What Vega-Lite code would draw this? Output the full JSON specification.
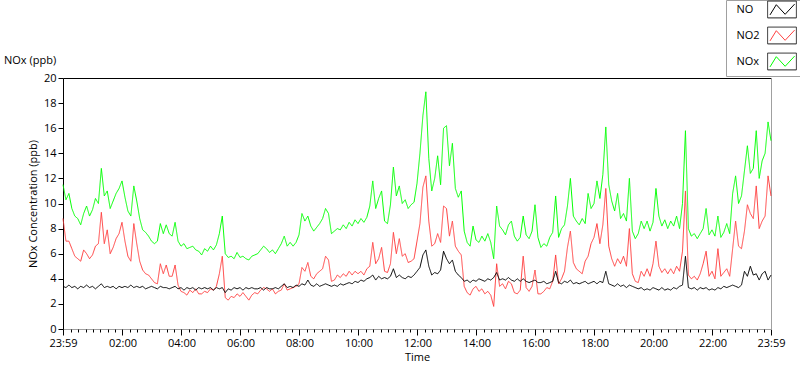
{
"$schema": "https://vega.github.io/schema/vega-lite/v6.json",
"width": 708, "height": 251,
"autosize": {"type": "none"},
"padding": {"left": 63, "top": 78, "right": 29, "bottom": 40},
"background": "white",
"config": {"view": {"stroke": null}, "font": "Open Sans",
 "axis": {"labelFont": "Open Sans", "titleFont": "Open Sans", "labelFontSize": 11, "titleFontSize": 11, "titleFontWeight": "normal", "labelColor": "black", "titleColor": "black", "grid": false}},
"title": {"text": "NOx (ppb)", "anchor": "start", "frame": "group", "dx": -59, "dy": 79, "offset": 13, "fontSize": 11, "fontWeight": "normal", "color": "black", "font": "Open Sans"},
"data": {"values": [
{"t":0,"NO":3.4,"NO2":8.8,"NOx":11.5},{"t":6,"NO":3.3,"NO2":7.0,"NOx":10.3},{"t":12,"NO":3.5,"NO2":7.0,"NOx":10.8},{"t":18,"NO":3.3,"NO2":6.4,"NOx":9.6},{"t":24,"NO":3.4,"NO2":5.8,"NOx":9.0},{"t":30,"NO":3.2,"NO2":5.6,"NOx":8.8},{"t":36,"NO":3.4,"NO2":5.4,"NOx":8.3},{"t":42,"NO":3.3,"NO2":6.3,"NOx":9.2},{"t":48,"NO":3.5,"NO2":6.0,"NOx":9.8},{"t":54,"NO":3.3,"NO2":5.6,"NOx":9.0},
{"t":60,"NO":3.4,"NO2":5.9,"NOx":9.5},{"t":66,"NO":3.2,"NO2":6.6,"NOx":10.4},{"t":72,"NO":3.4,"NO2":6.8,"NOx":10.0},{"t":78,"NO":3.6,"NO2":9.3,"NOx":12.8},{"t":84,"NO":3.3,"NO2":6.8,"NOx":10.6},{"t":90,"NO":3.4,"NO2":7.9,"NOx":11.0},{"t":96,"NO":3.3,"NO2":6.0,"NOx":9.6},{"t":102,"NO":3.4,"NO2":6.5,"NOx":10.2},{"t":108,"NO":3.2,"NO2":7.2,"NOx":10.8},{"t":114,"NO":3.4,"NO2":7.6,"NOx":11.2},
{"t":120,"NO":3.3,"NO2":8.5,"NOx":11.8},{"t":126,"NO":3.4,"NO2":7.0,"NOx":10.5},{"t":132,"NO":3.3,"NO2":5.8,"NOx":9.4},{"t":138,"NO":3.5,"NO2":5.4,"NOx":9.0},{"t":144,"NO":3.3,"NO2":8.4,"NOx":11.4},{"t":150,"NO":3.4,"NO2":6.8,"NOx":10.2},{"t":156,"NO":3.3,"NO2":5.4,"NOx":8.8},{"t":162,"NO":3.4,"NO2":4.7,"NOx":7.9},{"t":168,"NO":3.2,"NO2":4.4,"NOx":7.7},{"t":174,"NO":3.3,"NO2":4.3,"NOx":7.4},
{"t":180,"NO":3.4,"NO2":4.0,"NOx":7.0},{"t":186,"NO":3.3,"NO2":3.7,"NOx":6.8},{"t":192,"NO":3.2,"NO2":3.6,"NOx":7.0},{"t":198,"NO":3.4,"NO2":5.2,"NOx":8.4},{"t":204,"NO":3.3,"NO2":4.4,"NOx":7.6},{"t":210,"NO":3.3,"NO2":5.1,"NOx":8.3},{"t":216,"NO":3.2,"NO2":4.2,"NOx":7.6},{"t":222,"NO":3.3,"NO2":4.2,"NOx":7.4},{"t":228,"NO":3.4,"NO2":5.1,"NOx":8.5},{"t":234,"NO":3.2,"NO2":3.5,"NOx":7.0},
{"t":240,"NO":3.3,"NO2":3.0,"NOx":6.6},{"t":246,"NO":3.1,"NO2":2.9,"NOx":6.8},{"t":252,"NO":3.3,"NO2":2.7,"NOx":6.4},{"t":258,"NO":3.2,"NO2":3.1,"NOx":6.5},{"t":264,"NO":3.3,"NO2":2.9,"NOx":6.6},{"t":270,"NO":3.1,"NO2":3.2,"NOx":6.3},{"t":276,"NO":3.3,"NO2":2.8,"NOx":6.2},{"t":282,"NO":3.2,"NO2":2.8,"NOx":5.9},{"t":288,"NO":3.3,"NO2":3.0,"NOx":6.4},{"t":294,"NO":3.2,"NO2":2.9,"NOx":6.2},
{"t":300,"NO":3.3,"NO2":3.2,"NOx":6.6},{"t":306,"NO":3.1,"NO2":3.1,"NOx":6.3},{"t":312,"NO":3.3,"NO2":3.4,"NOx":6.7},{"t":318,"NO":3.2,"NO2":4.4,"NOx":7.6},{"t":324,"NO":3.3,"NO2":5.8,"NOx":9.0},{"t":330,"NO":2.9,"NO2":2.5,"NOx":6.0},{"t":336,"NO":3.2,"NO2":2.3,"NOx":5.7},{"t":342,"NO":3.1,"NO2":2.6,"NOx":5.8},{"t":348,"NO":3.3,"NO2":2.5,"NOx":5.6},{"t":354,"NO":3.2,"NO2":2.8,"NOx":6.1},
{"t":360,"NO":3.3,"NO2":2.6,"NOx":5.7},{"t":366,"NO":3.1,"NO2":2.9,"NOx":5.8},{"t":372,"NO":3.3,"NO2":2.6,"NOx":5.6},{"t":378,"NO":3.2,"NO2":2.3,"NOx":5.5},{"t":384,"NO":3.3,"NO2":2.7,"NOx":5.8},{"t":390,"NO":3.2,"NO2":2.9,"NOx":5.9},{"t":396,"NO":3.2,"NO2":2.8,"NOx":6.0},{"t":402,"NO":3.3,"NO2":3.1,"NOx":6.3},{"t":408,"NO":3.1,"NO2":3.3,"NOx":6.6},{"t":414,"NO":3.3,"NO2":3.2,"NOx":6.4},
{"t":420,"NO":3.2,"NO2":3.0,"NOx":6.1},{"t":426,"NO":3.2,"NO2":3.2,"NOx":6.3},{"t":432,"NO":3.3,"NO2":2.8,"NOx":6.0},{"t":438,"NO":3.2,"NO2":3.0,"NOx":6.4},{"t":444,"NO":3.4,"NO2":3.1,"NOx":6.8},{"t":450,"NO":3.6,"NO2":3.6,"NOx":7.4},{"t":456,"NO":3.3,"NO2":3.1,"NOx":6.6},{"t":462,"NO":3.4,"NO2":3.2,"NOx":6.9},{"t":468,"NO":3.3,"NO2":3.3,"NOx":6.6},{"t":474,"NO":3.5,"NO2":3.4,"NOx":6.9},
{"t":480,"NO":3.4,"NO2":3.6,"NOx":7.5},{"t":486,"NO":3.6,"NO2":4.9,"NOx":9.2},{"t":492,"NO":3.5,"NO2":4.6,"NOx":8.6},{"t":498,"NO":3.9,"NO2":5.3,"NOx":9.0},{"t":504,"NO":3.5,"NO2":4.2,"NOx":8.2},{"t":510,"NO":3.4,"NO2":4.0,"NOx":7.8},{"t":516,"NO":3.6,"NO2":4.4,"NOx":8.1},{"t":522,"NO":3.4,"NO2":4.6,"NOx":8.4},{"t":528,"NO":3.5,"NO2":4.8,"NOx":8.8},{"t":534,"NO":3.6,"NO2":5.8,"NOx":9.6},
{"t":540,"NO":3.5,"NO2":5.5,"NOx":9.2},{"t":546,"NO":3.4,"NO2":3.8,"NOx":7.6},{"t":552,"NO":3.5,"NO2":3.9,"NOx":7.8},{"t":558,"NO":3.4,"NO2":4.3,"NOx":8.0},{"t":564,"NO":3.6,"NO2":4.1,"NOx":7.9},{"t":570,"NO":3.5,"NO2":4.4,"NOx":8.3},{"t":576,"NO":3.6,"NO2":4.2,"NOx":8.0},{"t":582,"NO":3.7,"NO2":4.6,"NOx":8.5},{"t":588,"NO":3.6,"NO2":4.3,"NOx":8.2},{"t":594,"NO":3.8,"NO2":4.6,"NOx":8.7},
{"t":600,"NO":3.7,"NO2":4.4,"NOx":8.4},{"t":606,"NO":3.9,"NO2":4.6,"NOx":8.8},{"t":612,"NO":3.8,"NO2":4.3,"NOx":8.5},{"t":618,"NO":4.0,"NO2":4.8,"NOx":8.9},{"t":624,"NO":4.1,"NO2":5.0,"NOx":9.8},{"t":630,"NO":4.3,"NO2":6.9,"NOx":11.8},{"t":636,"NO":3.9,"NO2":5.2,"NOx":9.6},{"t":642,"NO":4.2,"NO2":5.6,"NOx":10.4},{"t":648,"NO":4.0,"NO2":6.5,"NOx":11.0},{"t":654,"NO":4.1,"NO2":4.6,"NOx":8.6},
{"t":660,"NO":4.0,"NO2":4.5,"NOx":8.4},{"t":666,"NO":4.2,"NO2":5.2,"NOx":9.9},{"t":672,"NO":4.8,"NO2":7.7,"NOx":12.9},{"t":678,"NO":4.1,"NO2":6.0,"NOx":10.6},{"t":684,"NO":4.3,"NO2":7.2,"NOx":11.4},{"t":690,"NO":4.1,"NO2":5.8,"NOx":10.0},{"t":696,"NO":4.0,"NO2":6.0,"NOx":10.3},{"t":702,"NO":4.2,"NO2":5.3,"NOx":9.6},{"t":708,"NO":4.1,"NO2":5.4,"NOx":9.9},{"t":714,"NO":4.3,"NO2":5.6,"NOx":10.1},
{"t":720,"NO":4.6,"NO2":7.0,"NOx":11.6},{"t":726,"NO":4.9,"NO2":8.4,"NOx":14.0},{"t":732,"NO":5.9,"NO2":11.3,"NOx":17.0},{"t":738,"NO":6.3,"NO2":12.2,"NOx":18.9},{"t":744,"NO":5.0,"NO2":8.6,"NOx":13.6},{"t":750,"NO":4.3,"NO2":6.6,"NOx":11.0},{"t":756,"NO":4.5,"NO2":6.8,"NOx":12.0},{"t":762,"NO":4.4,"NO2":7.6,"NOx":13.8},{"t":768,"NO":4.7,"NO2":6.9,"NOx":11.5},{"t":774,"NO":6.2,"NO2":9.8,"NOx":16.0},
{"t":780,"NO":5.6,"NO2":9.6,"NOx":16.2},{"t":786,"NO":5.2,"NO2":7.4,"NOx":13.0},{"t":792,"NO":5.5,"NO2":8.6,"NOx":14.8},{"t":798,"NO":4.6,"NO2":6.6,"NOx":11.2},{"t":804,"NO":4.3,"NO2":6.2,"NOx":10.5},{"t":810,"NO":4.1,"NO2":5.9,"NOx":11.0},{"t":816,"NO":3.8,"NO2":3.4,"NOx":7.8},{"t":822,"NO":3.9,"NO2":2.9,"NOx":6.9},{"t":828,"NO":3.7,"NO2":2.7,"NOx":6.6},{"t":834,"NO":3.9,"NO2":3.2,"NOx":8.2},
{"t":840,"NO":3.8,"NO2":3.4,"NOx":7.1},{"t":846,"NO":4.0,"NO2":3.0,"NOx":6.9},{"t":852,"NO":3.9,"NO2":3.2,"NOx":7.4},{"t":858,"NO":3.8,"NO2":2.8,"NOx":7.0},{"t":864,"NO":4.0,"NO2":3.0,"NOx":7.6},{"t":870,"NO":3.9,"NO2":2.7,"NOx":6.9},{"t":876,"NO":4.1,"NO2":1.8,"NOx":5.6},{"t":882,"NO":4.5,"NO2":5.2,"NOx":9.8},{"t":888,"NO":3.9,"NO2":3.4,"NOx":8.2},{"t":894,"NO":4.0,"NO2":3.6,"NOx":7.9},
{"t":900,"NO":3.9,"NO2":3.2,"NOx":7.5},{"t":906,"NO":4.1,"NO2":3.8,"NOx":8.3},{"t":912,"NO":3.9,"NO2":3.6,"NOx":8.6},{"t":918,"NO":3.8,"NO2":2.9,"NOx":7.4},{"t":924,"NO":4.0,"NO2":2.8,"NOx":7.0},{"t":930,"NO":3.8,"NO2":3.1,"NOx":7.3},{"t":936,"NO":4.0,"NO2":5.8,"NOx":9.0},{"t":942,"NO":3.8,"NO2":3.3,"NOx":7.5},{"t":948,"NO":3.7,"NO2":3.0,"NOx":7.2},{"t":954,"NO":3.8,"NO2":3.4,"NOx":7.8},
{"t":960,"NO":3.9,"NO2":4.7,"NOx":9.9},{"t":966,"NO":3.7,"NO2":2.8,"NOx":7.3},{"t":972,"NO":3.7,"NO2":2.8,"NOx":6.5},{"t":978,"NO":3.8,"NO2":3.0,"NOx":6.8},{"t":984,"NO":3.6,"NO2":3.3,"NOx":6.6},{"t":990,"NO":3.7,"NO2":3.2,"NOx":7.3},{"t":996,"NO":3.8,"NO2":3.8,"NOx":7.7},{"t":1002,"NO":4.6,"NO2":5.9,"NOx":10.6},{"t":1008,"NO":3.7,"NO2":3.6,"NOx":7.3},{"t":1014,"NO":3.6,"NO2":4.0,"NOx":8.0},
{"t":1020,"NO":3.8,"NO2":4.6,"NOx":8.3},{"t":1026,"NO":3.7,"NO2":6.5,"NOx":9.8},{"t":1032,"NO":3.9,"NO2":7.8,"NOx":12.0},{"t":1038,"NO":3.6,"NO2":5.3,"NOx":9.0},{"t":1044,"NO":3.7,"NO2":4.8,"NOx":8.6},{"t":1050,"NO":3.6,"NO2":4.6,"NOx":8.3},{"t":1056,"NO":3.7,"NO2":4.4,"NOx":8.8},{"t":1062,"NO":3.8,"NO2":5.4,"NOx":8.4},{"t":1068,"NO":3.6,"NO2":5.8,"NOx":10.8},{"t":1074,"NO":3.7,"NO2":6.8,"NOx":9.6},
{"t":1080,"NO":3.8,"NO2":7.3,"NOx":10.0},{"t":1086,"NO":3.6,"NO2":8.4,"NOx":11.8},{"t":1092,"NO":3.8,"NO2":6.8,"NOx":10.4},{"t":1098,"NO":3.7,"NO2":8.3,"NOx":12.3},{"t":1104,"NO":4.6,"NO2":11.2,"NOx":16.1},{"t":1110,"NO":3.6,"NO2":6.6,"NOx":11.5},{"t":1116,"NO":3.5,"NO2":5.6,"NOx":10.2},{"t":1122,"NO":3.4,"NO2":5.0,"NOx":9.4},{"t":1128,"NO":3.6,"NO2":5.6,"NOx":10.8},{"t":1134,"NO":3.4,"NO2":5.2,"NOx":8.8},
{"t":1140,"NO":3.5,"NO2":5.8,"NOx":9.2},{"t":1146,"NO":3.3,"NO2":5.0,"NOx":8.6},{"t":1152,"NO":3.5,"NO2":8.0,"NOx":12.0},{"t":1158,"NO":3.4,"NO2":4.4,"NOx":7.8},{"t":1164,"NO":3.3,"NO2":3.8,"NOx":7.2},{"t":1170,"NO":3.2,"NO2":3.7,"NOx":7.6},{"t":1176,"NO":3.3,"NO2":4.6,"NOx":8.6},{"t":1182,"NO":3.1,"NO2":4.2,"NOx":8.0},{"t":1188,"NO":3.2,"NO2":4.8,"NOx":8.6},{"t":1194,"NO":3.1,"NO2":4.2,"NOx":7.8},
{"t":1200,"NO":3.3,"NO2":5.2,"NOx":8.5},{"t":1206,"NO":3.2,"NO2":7.0,"NOx":11.2},{"t":1212,"NO":3.1,"NO2":5.0,"NOx":9.0},{"t":1218,"NO":3.3,"NO2":4.5,"NOx":8.2},{"t":1224,"NO":3.1,"NO2":4.8,"NOx":8.7},{"t":1230,"NO":3.2,"NO2":4.4,"NOx":8.0},{"t":1236,"NO":3.1,"NO2":4.8,"NOx":8.6},{"t":1242,"NO":3.3,"NO2":4.4,"NOx":8.2},{"t":1248,"NO":3.2,"NO2":5.0,"NOx":9.0},{"t":1254,"NO":3.4,"NO2":4.6,"NOx":8.0},
{"t":1260,"NO":3.5,"NO2":6.2,"NOx":10.0},{"t":1266,"NO":5.8,"NO2":11.0,"NOx":15.8},{"t":1272,"NO":3.3,"NO2":4.3,"NOx":8.0},{"t":1278,"NO":3.2,"NO2":4.0,"NOx":7.4},{"t":1284,"NO":3.3,"NO2":4.2,"NOx":7.6},{"t":1290,"NO":3.1,"NO2":3.9,"NOx":7.2},{"t":1296,"NO":3.3,"NO2":4.4,"NOx":7.6},{"t":1302,"NO":3.2,"NO2":5.2,"NOx":8.0},{"t":1308,"NO":3.3,"NO2":6.2,"NOx":9.6},{"t":1314,"NO":3.1,"NO2":4.2,"NOx":7.5},
{"t":1320,"NO":3.2,"NO2":4.6,"NOx":7.9},{"t":1326,"NO":3.1,"NO2":4.0,"NOx":7.4},{"t":1332,"NO":3.3,"NO2":6.4,"NOx":9.0},{"t":1338,"NO":3.2,"NO2":4.2,"NOx":7.3},{"t":1344,"NO":3.4,"NO2":4.5,"NOx":7.7},{"t":1350,"NO":3.3,"NO2":4.8,"NOx":8.4},{"t":1356,"NO":3.4,"NO2":4.2,"NOx":7.6},{"t":1362,"NO":3.5,"NO2":6.4,"NOx":10.8},{"t":1368,"NO":3.4,"NO2":8.6,"NOx":12.2},{"t":1374,"NO":3.3,"NO2":6.6,"NOx":10.0},
{"t":1380,"NO":3.5,"NO2":6.4,"NOx":10.6},{"t":1386,"NO":4.6,"NO2":7.8,"NOx":12.6},{"t":1392,"NO":4.2,"NO2":9.9,"NOx":14.6},{"t":1398,"NO":5.0,"NO2":9.2,"NOx":12.4},{"t":1404,"NO":4.3,"NO2":8.8,"NOx":12.8},{"t":1410,"NO":4.4,"NO2":11.4,"NOx":15.8},{"t":1416,"NO":3.9,"NO2":8.0,"NOx":12.0},{"t":1422,"NO":4.4,"NO2":8.6,"NOx":13.4},{"t":1428,"NO":4.6,"NO2":9.0,"NOx":14.0},{"t":1434,"NO":3.9,"NO2":12.2,"NOx":16.5},
{"t":1440,"NO":4.3,"NO2":10.6,"NOx":15.0}
]},
"transform": [{"fold": ["NOx", "NO2", "NO"], "as": ["series", "v"]}],
"encoding": {
 "color": {"field": "series", "type": "nominal",
  "scale": {"domain": ["NO", "NO2", "NOx"], "range": ["#000000", "#ff4040", "#00ff00"]},
  "legend": {"orient": "none", "legendX": 663, "legendY": -78, "title": null,
   "symbolType": "M-4.8,-2.8M4.8,2.8M-4,1.8L-1.9,-1.6L1.05,1.6L4.2,-1.8", "symbolSize": 36, "symbolStrokeWidth": 1,
   "symbolOffset": 46.5, "labelOffset": -51, "rowPadding": 5, "padding": 4,
   "labelFont": "Open Sans", "labelFontSize": 11, "labelColor": "black", "strokeColor": "#a0a0a0"}},
 "strokeDash": {"field": "series", "type": "nominal",
  "scale": {"range": [[1, 0], [1, 0], [1, 0]]},
  "legend": {"orient": "none", "legendX": 663, "legendY": -78, "title": null,
   "symbolType": "M-4.8,-2.8H4.8V2.8H-4.8Z", "symbolSize": 36, "symbolStrokeWidth": 1, "symbolStrokeColor": "#202020", "symbolFillColor": "transparent",
   "symbolOffset": 46.5, "labelOffset": -51, "rowPadding": 5, "padding": 4,
   "labelFont": "Open Sans", "labelFontSize": 11, "labelColor": "transparent"}}
},
"layer": [
 {"transform": [{"filter": "datum.series == 'NOx'"}],
  "mark": {"type": "line", "strokeWidth": 1},
  "encoding": {
   "x": {"field": "t", "type": "quantitative", "scale": {"domain": [0, 1440], "nice": false, "zero": false},
    "axis": {"orient": "bottom", "values": [0, 121, 241, 361, 481, 601, 721, 841, 961, 1081, 1201, 1321, 1440],
     "labelExpr": "timeFormat(datetime(2024, 0, 1, 23, 59 + datum.value), '%H:%M')",
     "domainColor": "#a0a0a0", "tickColor": "black", "tickSize": 6, "labelPadding": 2, "labelOverlap": false, "labelFlush": false, "labelBound": false,
     "title": "Time", "titlePadding": 3}},
   "y": {"field": "v", "type": "quantitative", "scale": {"domain": [0, 20], "nice": false},
    "axis": {"orient": "left", "values": [0, 2, 4, 6, 8, 10, 12, 14, 16, 18, 20], "domainColor": "black", "tickColor": "black", "tickSize": 5, "labelPadding": 2,
     "title": "NOx Concentration (ppb)", "titlePadding": 5}}
  }},
 {"transform": [{"filter": "datum.series == 'NO2'"}],
  "mark": {"type": "line", "strokeWidth": 1},
  "encoding": {
   "x": {"field": "t", "type": "quantitative", "scale": {"domain": [0, 1440], "nice": false, "zero": false},
    "axis": {"orient": "top", "domainColor": "black", "ticks": false, "labels": false, "title": null}},
   "y": {"field": "v", "type": "quantitative", "scale": {"domain": [0, 20], "nice": false}, "axis": null}
  }},
 {"transform": [{"filter": "datum.series == 'NO'"}],
  "mark": {"type": "line", "strokeWidth": 1},
  "encoding": {
   "x": {"field": "t", "type": "quantitative", "scale": {"domain": [0, 1440], "nice": false, "zero": false},
    "axis": {"orient": "bottom", "domain": false, "labels": false, "tickColor": "black", "tickSize": 3, "title": null,
     "values": [1,16,31,46,61,76,91,106,121,136,151,166,181,196,211,226,241,256,271,286,301,316,331,346,361,376,391,406,421,436,451,466,481,496,511,526,541,556,571,586,601,616,631,646,661,676,691,706,721,736,751,766,781,796,811,826,841,856,871,886,901,916,931,946,961,976,991,1006,1021,1036,1051,1066,1081,1096,1111,1126,1141,1156,1171,1186,1201,1216,1231,1246,1261,1276,1291,1306,1321,1336,1351,1366,1381,1396,1411,1426]}},
   "y": {"field": "v", "type": "quantitative", "scale": {"domain": [0, 20], "nice": false},
    "axis": {"orient": "right", "domainColor": "#a0a0a0", "ticks": false, "labels": false, "title": null}}
  }}
],
"resolve": {"axis": {"x": "independent", "y": "independent"}}
}
